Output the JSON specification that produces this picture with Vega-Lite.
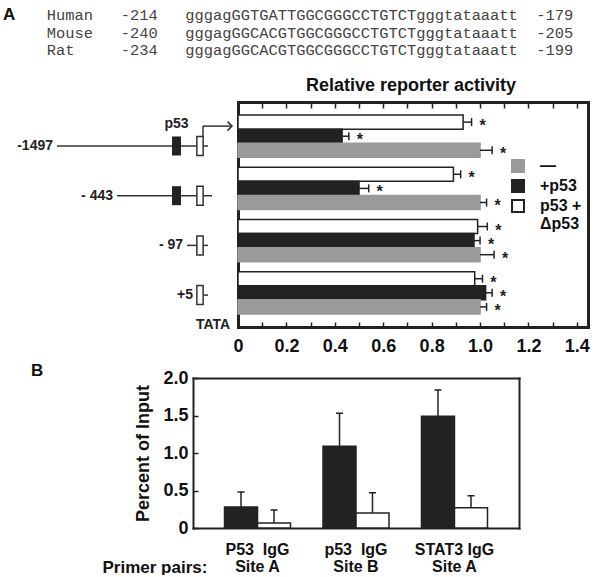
{
  "$schema": "https://vega.github.io/schema/vega-lite/v6.json",
  "padding": 0,
  "background": "white",
  "config": {"font": "Liberation Sans", "view": {"stroke": null}},
  "spacing": 51,
  "bounds": "flush",
  "resolve": {"scale": {"fill": "independent", "stroke": "independent", "color": "independent", "x": "independent", "y": "independent"}, "legend": {"fill": "independent", "stroke": "independent", "color": "independent"}},
  "vconcat": [
    {
      "width": 600,
      "height": 51,
      "view": {"stroke": null, "fill": "white"},
      "title": {"text": "A", "anchor": "start", "orient": "top", "offset": -24, "dx": 3, "fontSize": 17, "fontWeight": "bold", "color": "#111"},
      "data": {"values": [
        {"species": "Human", "start": "-214", "sequence": "gggagGGTGATTGGCGGGCCTGTCTgggtataaatt", "end": "-179"},
        {"species": "Mouse", "start": "-240", "sequence": "gggagGGCACGTGGCGGGCCTGTCTgggtataaatt", "end": "-205"},
        {"species": "Rat", "start": "-234", "sequence": "gggagGGCACGTGGCGGGCCTGTCTgggtataaatt", "end": "-199"}
      ]},
      "transform": [{"calculate": "pad(datum.species, 8, '\u00a0') + pad(datum.start, 7, '\u00a0') + datum.sequence + '\u00a0\u00a0' + datum.end", "as": "line"}],
      "mark": {"type": "text", "font": "Liberation Mono", "fontSize": 15.4, "color": "#444", "align": "center", "baseline": "middle", "dx": 10},
      "encoding": {
        "y": {"field": "species", "type": "nominal", "sort": null, "scale": {"type": "point", "range": [15, 50], "padding": 0}, "axis": null},
        "text": {"field": "line"}
      }
    },
    {
      "width": 588,
      "height": 225,
      "view": {"stroke": null},
      "title": {"text": "Relative reporter activity", "anchor": "start", "align": "center", "dx": 411, "fontSize": 18, "fontWeight": "bold", "offset": 6, "color": "#111"},
      "layer": [
        {
          "data": {"values": [
            {"kind": "line", "label": "-1497", "row": 1, "pos": 57, "pos2": 208},
            {"kind": "line", "label": "- 443", "row": 2, "pos": 117, "pos2": 212},
            {"kind": "line", "label": "- 97", "row": 3, "pos": 187, "pos2": 208},
            {"kind": "line", "label": "+5", "row": 4, "pos": 197, "pos2": 208},
            {"kind": "p53", "row": 1, "pos": 176.5},
            {"kind": "p53", "row": 2, "pos": 176.5},
            {"kind": "tata", "row": 1, "pos": 200},
            {"kind": "tata", "row": 2, "pos": 200},
            {"kind": "tata", "row": 3, "pos": 200},
            {"kind": "tata", "row": 4, "pos": 200},
            {"kind": "arrow", "row": 0.82, "row2": 0.6, "pos": 203, "pos2": 203},
            {"kind": "arrow", "row": 0.6, "row2": 0.6, "pos": 203, "pos2": 231},
            {"kind": "head", "row": 0.6, "pos": 232},
            {"kind": "note", "label": "p53", "row": 0.55, "pos": 176.5},
            {"kind": "note", "label": "TATA", "row": 4.6, "pos": 213}
          ]},
          "encoding": {
            "x": {"field": "pos", "type": "quantitative", "scale": {"domain": [0, 238], "range": [0, 238], "nice": false, "zero": false}, "axis": null},
            "y": {"field": "row", "type": "quantitative", "scale": {"domain": [0.115, 4.642], "nice": false, "zero": false, "reverse": true}, "axis": null}
          },
          "layer": [
            {"transform": [{"filter": "datum.kind == 'line'"}], "mark": {"type": "rule", "strokeWidth": 1.5, "color": "#333"}, "encoding": {"x2": {"field": "pos2"}}},
            {"transform": [{"filter": "datum.kind == 'arrow'"}], "mark": {"type": "rule", "strokeWidth": 1.5, "color": "#333"}, "encoding": {"x2": {"field": "pos2"}, "y2": {"field": "row2"}}},
            {"transform": [{"filter": "datum.kind == 'head'"}], "mark": {"type": "point", "shape": "M-1,-1L0,0L-1,1", "filled": false, "size": 81, "stroke": "#333", "strokeWidth": 1.5, "opacity": 1}, "encoding": {}},
            {"transform": [{"filter": "datum.kind == 'p53'"}], "mark": {"type": "point", "shape": "M-0.47,-1L0.47,-1L0.47,1L-0.47,1Z", "filled": true, "size": 361, "fill": "#222", "strokeWidth": 0, "opacity": 1}, "encoding": {}},
            {"transform": [{"filter": "datum.kind == 'tata'"}], "mark": {"type": "point", "shape": "M-0.33,-1L0.33,-1L0.33,1L-0.33,1Z", "filled": true, "size": 361, "fill": "white", "stroke": "#333", "strokeWidth": 1.5, "opacity": 1}, "encoding": {}},
            {"transform": [{"filter": "datum.kind == 'line'"}], "mark": {"type": "text", "align": "right", "baseline": "middle", "dx": -4, "fontSize": 14, "fontWeight": "bold", "color": "#222"}, "encoding": {"text": {"field": "label"}}},
            {"transform": [{"filter": "datum.kind == 'note'"}], "mark": {"type": "text", "align": "center", "baseline": "middle", "fontSize": 14, "fontWeight": "bold", "color": "#222"}, "encoding": {"text": {"field": "label"}}}
          ]
        },
        {
          "data": {"values": [
            {"construct": "-1497", "series": "p53 + Δp53", "value": 0.93, "err": 0.965},
            {"construct": "-1497", "series": "+p53", "value": 0.43, "err": 0.458},
            {"construct": "-1497", "series": "—", "value": 1.0, "err": 1.05},
            {"construct": "-443", "series": "p53 + Δp53", "value": 0.89, "err": 0.92},
            {"construct": "-443", "series": "+p53", "value": 0.5, "err": 0.54},
            {"construct": "-443", "series": "—", "value": 1.0, "err": 1.027},
            {"construct": "-97", "series": "p53 + Δp53", "value": 0.99, "err": 1.03},
            {"construct": "-97", "series": "+p53", "value": 0.975, "err": 1.0},
            {"construct": "-97", "series": "—", "value": 1.0, "err": 1.058},
            {"construct": "+5", "series": "p53 + Δp53", "value": 0.978, "err": 1.01},
            {"construct": "+5", "series": "+p53", "value": 1.023, "err": 1.05},
            {"construct": "+5", "series": "—", "value": 1.0, "err": 1.027}
          ]},
          "encoding": {
            "yOffset": {"field": "series", "type": "nominal", "sort": ["p53 + Δp53", "+p53", "—"], "scale": {"paddingInner": 0, "paddingOuter": 0}}
          },
          "layer": [
            {
              "mark": {"type": "bar", "strokeWidth": 1.5},
              "encoding": {
                "y": {"field": "construct", "type": "nominal", "sort": ["-1497", "-443", "-97", "+5"], "scale": {"paddingInner": 0.19, "paddingOuter": 0.25},
                  "axis": {"orient": "left", "offset": -238, "labels": false, "ticks": false, "domain": true, "domainWidth": 3, "domainColor": "#222", "domainCap": "square", "title": null}},
                "x": {"field": "value", "type": "quantitative", "scale": {"domain": [0, 1.446], "range": [238, 588], "nice": false, "zero": true},
                  "axis": {"orient": "bottom", "values": [0, 0.1, 0.2, 0.3, 0.4, 0.5, 0.6, 0.7, 0.8, 0.9, 1.0, 1.1, 1.2, 1.3, 1.4],
                    "labelExpr": "datum.value == 0 ? '0' : (round(datum.value * 10) % 2 == 0 ? format(datum.value, '.1f') : '')",
                    "tickSize": -5, "tickWidth": 1.5, "tickColor": "#222", "domain": true, "domainWidth": 3, "domainColor": "#222", "domainCap": "square", "grid": false,
                    "labelFontSize": 18, "labelFontWeight": "bold", "labelColor": "#111", "labelPadding": 15, "labelFlush": false, "labelOverlap": false, "title": null}},
                "fill": {"field": "series", "type": "nominal", "scale": {"domain": ["—", "+p53", "p53 + Δp53"], "range": ["#9a9a9a", "#222222", "#ffffff"]},
                  "legend": {"orient": "none", "legendX": 510, "legendY": 56, "title": null, "symbolType": "square", "symbolSize": 144, "symbolStrokeWidth": 2, "labelFontSize": 16, "labelFontWeight": "bold", "labelColor": "#111", "labelOffset": 14, "rowPadding": 0, "padding": 0, "labelLimit": 200,
                    "labelExpr": "datum.label == 'p53 + Δp53' ? ['p53 +', 'Δp53'] : datum.label"}},
                "stroke": {"field": "series", "type": "nominal", "scale": {"domain": ["—", "+p53", "p53 + Δp53"], "range": ["#9a9a9a", "#222222", "#222222"]},
                  "legend": {"orient": "none", "legendX": 510, "legendY": 56, "title": null, "symbolType": "square", "symbolSize": 144, "symbolStrokeWidth": 2, "labelFontSize": 16, "labelFontWeight": "bold", "labelColor": "#111", "labelOffset": 14, "rowPadding": 0, "padding": 0, "labelLimit": 200,
                    "labelExpr": "datum.label == 'p53 + Δp53' ? ['p53 +', 'Δp53'] : datum.label"}}
              }
            },
            {
              "mark": {"type": "rule", "strokeWidth": 1.5, "color": "#222"},
              "encoding": {
                "y": {"field": "construct", "type": "nominal", "sort": ["-1497", "-443", "-97", "+5"],
                  "axis": {"orient": "right", "labels": false, "ticks": false, "domain": true, "domainWidth": 3, "domainColor": "#222", "domainCap": "square", "title": null}},
                "x": {"field": "value", "type": "quantitative",
                  "axis": {"orient": "top", "values": [0, 0.1, 0.2, 0.3, 0.4, 0.5, 0.6, 0.7, 0.8, 0.9, 1.0, 1.1, 1.2, 1.3, 1.4], "labels": false, "tickSize": -6, "tickWidth": 1.5, "tickColor": "#222", "domain": true, "domainWidth": 3, "domainColor": "#222", "domainCap": "square", "grid": false, "title": null}},
                "x2": {"field": "err"}
              }
            },
            {
              "mark": {"type": "tick", "thickness": 1.5, "size": 8, "color": "#222", "opacity": 1},
              "encoding": {
                "y": {"field": "construct", "type": "nominal", "sort": ["-1497", "-443", "-97", "+5"], "axis": null},
                "x": {"field": "err", "type": "quantitative", "axis": null}
              }
            },
            {
              "mark": {"type": "text", "text": "*", "dx": 11, "dy": 4, "fontSize": 16, "fontWeight": "bold", "color": "#222"},
              "encoding": {
                "y": {"field": "construct", "type": "nominal", "sort": ["-1497", "-443", "-97", "+5"], "axis": null},
                "x": {"field": "err", "type": "quantitative", "axis": null}
              }
            }
          ],
          "resolve": {"axis": {"x": "independent", "y": "independent"}}
        }
      ],
      "resolve": {"scale": {"x": "independent", "y": "independent"}}
    },
    {
      "width": 519,
      "height": 150,
      "view": {"stroke": null},
      "title": {"text": "B", "anchor": "start", "dx": 31, "offset": -11, "fontSize": 17, "fontWeight": "bold", "color": "#111"},
      "data": {"values": [
        {"group": "P53\u00a0\u00a0IgG\nSite A", "ab": "Antibody", "value": 0.28, "err": 0.48},
        {"group": "P53\u00a0\u00a0IgG\nSite A", "ab": "IgG", "value": 0.067, "err": 0.24},
        {"group": "p53\u00a0\u00a0IgG\nSite B", "ab": "Antibody", "value": 1.09, "err": 1.53},
        {"group": "p53\u00a0\u00a0IgG\nSite B", "ab": "IgG", "value": 0.2, "err": 0.47},
        {"group": "STAT3 IgG\nSite A", "ab": "Antibody", "value": 1.49, "err": 1.84},
        {"group": "STAT3 IgG\nSite A", "ab": "IgG", "value": 0.27, "err": 0.43}
      ]},
      "encoding": {
        "xOffset": {"field": "ab", "type": "nominal", "sort": ["Antibody", "IgG"], "scale": {"paddingInner": 0, "paddingOuter": 0}}
      },
      "layer": [
        {
          "mark": {"type": "bar", "stroke": "#222", "strokeWidth": 1.5},
          "encoding": {
            "x": {"field": "group", "type": "nominal", "sort": null, "scale": {"range": [193, 519], "paddingInner": 0.33, "paddingOuter": 0.32},
              "axis": {"title": "Primer pairs:", "labelExpr": "split(datum.label, '\\n')", "labelAngle": 0, "ticks": false, "domain": true, "domainWidth": 2, "domainColor": "#222", "domainCap": "square",
                "labelPadding": 13, "labelFontSize": 16, "labelFontWeight": "bold", "labelLineHeight": 17, "labelBaseline": "top", "labelColor": "#111",
                "titleFontSize": 17, "titleFontWeight": "bold", "titleAnchor": "start", "titleAlign": "left", "titleX": 102, "titleY": 39, "titleBaseline": "middle", "titleColor": "#111"}},
            "y": {"field": "value", "type": "quantitative", "scale": {"domain": [0, 2], "nice": false},
              "axis": {"orient": "left", "offset": -193, "title": "Percent of Input", "values": [0, 0.5, 1, 1.5, 2], "labelExpr": "datum.value == 0 ? '0' : format(datum.value, '.1f')",
                "tickSize": -5, "tickColor": "#222", "tickWidth": 1.5, "domain": true, "domainWidth": 2, "domainColor": "#222", "domainCap": "square", "grid": false,
                "labelFontSize": 18, "labelFontWeight": "bold", "labelPadding": 10, "labelColor": "#111",
                "titleFontSize": 18, "titleFontWeight": "bold", "titleColor": "#111", "titlePadding": 10}},
            "color": {"field": "ab", "type": "nominal", "scale": {"domain": ["Antibody", "IgG"], "range": ["#222222", "#ffffff"]}, "legend": null}
          }
        },
        {
          "mark": {"type": "rule", "strokeWidth": 1.5, "color": "#222"},
          "encoding": {
            "x": {"field": "group", "type": "nominal", "sort": null,
              "axis": {"orient": "top", "labels": false, "ticks": false, "domain": true, "domainWidth": 2, "domainColor": "#222", "domainCap": "square", "title": null}},
            "y": {"field": "value", "type": "quantitative",
              "axis": {"orient": "right", "labels": false, "ticks": false, "domain": true, "domainWidth": 2, "domainColor": "#222", "domainCap": "square", "grid": false, "title": null}},
            "y2": {"field": "err"}
          }
        },
        {
          "mark": {"type": "tick", "thickness": 1.5, "size": 7, "color": "#222", "opacity": 1},
          "encoding": {
            "x": {"field": "group", "type": "nominal", "sort": null, "axis": null},
            "y": {"field": "err", "type": "quantitative", "axis": null}
          }
        }
      ],
      "resolve": {"axis": {"x": "independent", "y": "independent"}}
    }
  ]
}
